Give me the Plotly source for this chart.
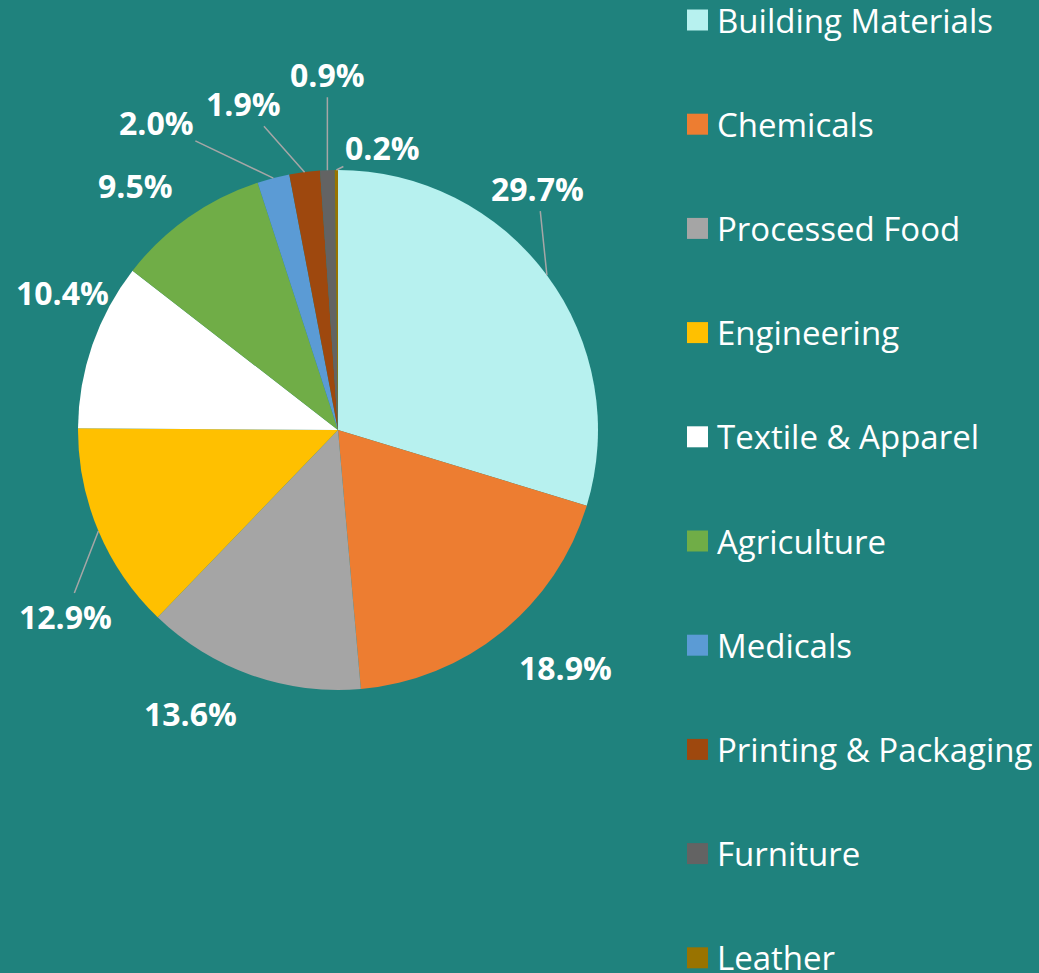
import math
import plotly.graph_objects as go

categories = ["Building Materials", "Chemicals", "Processed Food", "Engineering",
              "Textile & Apparel", "Agriculture", "Medicals", "Printing & Packaging",
              "Furniture", "Leather"]
shares = [29.7, 18.9, 13.6, 12.9, 10.4, 9.5, 2.0, 1.9, 0.9, 0.2]
colors = ["#b7f1ef", "#ed7d31", "#a5a5a5", "#ffc000", "#ffffff",
          "#70ad47", "#5b9bd5", "#9e480e", "#636363", "#997300"]

# label placement styling (pixel offsets from slice edge to label centre, leader flag)
label_offsets = [(-9, -87, True), (64, 36, False), (-61, 38, False), (-33, 85, True),
                 (-30, -53, False), (-53, -32, False), (-117, -56, True),
                 (-61, -69, True), (0, -96, True), (46, -23, True)]

W, H = 1039, 973
BG = "#1f827d"
cx, cy, R = 338, 430, 260

fig = go.Figure()
fig.add_trace(go.Pie(
    labels=categories, values=shares, sort=False, direction="clockwise",
    rotation=0, textinfo="none", showlegend=False,
    marker=dict(colors=colors, line=dict(width=0)),
    domain=dict(x=[(cx - R) / W, (cx + R) / W], y=[1 - (cy + R) / H, 1 - (cy - R) / H]),
))

total = sum(shares)
cum = 0.0
annotations = []
for v, (ax, ay, arrow) in zip(shares, label_offsets):
    th = 2 * math.pi * (cum + v / 2) / total
    cum += v
    ex = cx + R * math.sin(th)
    ey = cy - R * math.cos(th)
    annotations.append(dict(
        x=ex / W, y=1 - ey / H, xref="paper", yref="paper",
        text=f"<b>{v:.1f}%</b>", showarrow=True, ax=ax, ay=ay,
        arrowhead=0, arrowwidth=1.5, standoff=0,
        arrowcolor="#a6a6a6" if arrow else "rgba(0,0,0,0)",
        font=dict(family="Open Sans", size=32, color="white"),
    ))

# legend drawn as squares + text
shapes = []
for i, (cat, col) in enumerate(zip(categories, colors)):
    yc = 20 + 104.2 * i
    shapes.append(dict(type="rect", xref="paper", yref="paper",
                       x0=687 / W, x1=708 / W, y0=1 - (yc + 10.5) / H, y1=1 - (yc - 10.5) / H,
                       fillcolor=col, line=dict(width=0)))
    annotations.append(dict(x=715 / W, y=1 - yc / H, xref="paper", yref="paper",
                            text=cat, showarrow=False, xanchor="left", yanchor="middle",
                            font=dict(family="Open Sans", size=33, color="white")))

fig.update_layout(
    width=W, height=H, margin=dict(l=0, r=0, t=0, b=0),
    paper_bgcolor=BG, plot_bgcolor=BG,
    annotations=annotations, shapes=shapes,
)
fig.write_html("out.html", config={"displayModeBar": False},
               post_script="document.body.style.margin='0';document.body.style.overflow='hidden';document.body.style.background='" + BG + "';")
